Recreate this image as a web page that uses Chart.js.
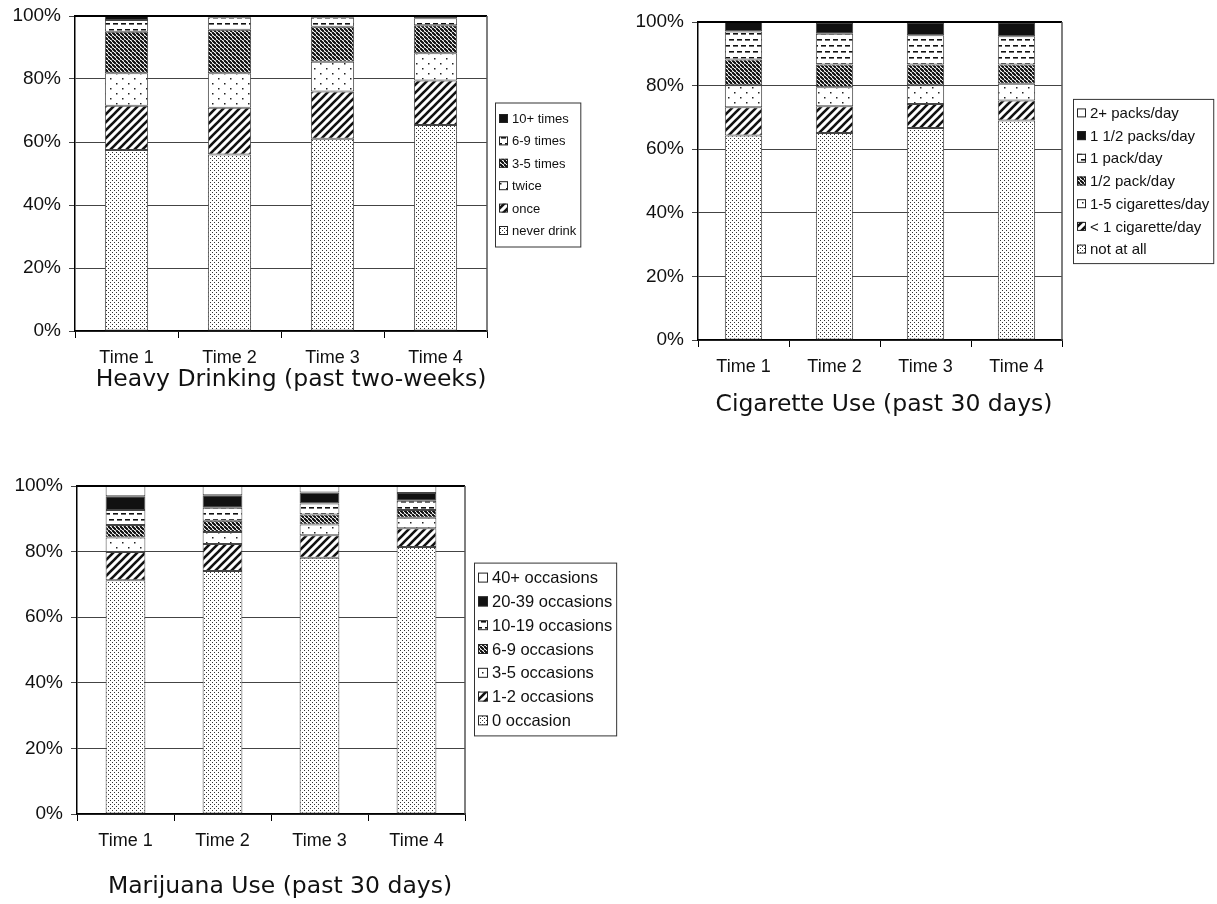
<!DOCTYPE html>
<html>
<head>
<meta charset="utf-8">
<script src="https://cdn.jsdelivr.net/npm/chart.js@4.4.1/dist/chart.umd.min.js"></script>
<style>
  html,body{margin:0;padding:0;background:#fff;}
  body{width:1217px;height:904px;position:relative;overflow:hidden;}
  canvas{position:absolute;}
</style>
</head>
<body>
<canvas id="c1" width="610" height="414" style="left:0;top:-4px"></canvas>
<canvas id="c2" width="617" height="420" style="left:600px;top:0"></canvas>
<canvas id="c3" width="620" height="454" style="left:0;top:450px"></canvas>
<script>
// ---------- DATA ----------
const timeLabels = ['Time 1', 'Time 2', 'Time 3', 'Time 4'];
const yTickValues = [0, 20, 40, 60, 80, 100];

// Heavy Drinking (past two-weeks), % per time point (bottom to top)
const drinkNever   = [57.5, 56.0, 61.0, 65.4];
const drinkOnce    = [14.0, 14.9, 15.0, 14.1];
const drinkTwice   = [10.3, 10.9, 9.5, 8.7];
const drink3to5    = [13.2, 13.8, 11.1, 8.9];
const drink6to9    = [3.7, 4.0, 3.0, 2.2];
const drink10plus  = [1.3, 0.4, 0.4, 0.7];

// Cigarette Use (past 30 days)
const cigNone      = [64.3, 65.1, 66.7, 69.0];
const cigLess1     = [8.9, 8.4, 7.5, 6.3];
const cig1to5      = [6.9, 6.0, 5.9, 5.3];
const cigHalfPack  = [8.1, 7.1, 6.5, 6.0];
const cigOnePack   = [8.8, 9.7, 9.2, 8.9];
const cigOneHalf   = [3.0, 3.4, 4.1, 4.4];
const cig2Plus     = [0.0, 0.3, 0.1, 0.1];

// Marijuana Use (past 30 days)
const mj0          = [71.3, 74.1, 78.1, 81.4];
const mj1to2       = [8.6, 8.2, 6.9, 5.7];
const mj3to5       = [4.4, 3.7, 3.3, 3.2];
const mj6to9       = [3.8, 3.4, 3.0, 2.4];
const mj10to19     = [4.6, 4.0, 3.4, 2.8];
const mj20to39     = [4.2, 3.8, 3.3, 2.4];
const mj40plus     = [3.1, 2.8, 2.0, 2.1];

// ---------- PATTERNS ----------
function makePattern(kind) {
  const c = document.createElement('canvas');
  let x;
  if (kind === 'dense') {
    c.width = 4; c.height = 4; x = c.getContext('2d');
    x.fillStyle = '#fff'; x.fillRect(0, 0, 4, 4);
    x.fillStyle = '#333'; x.fillRect(0, 0, 1, 1); x.fillRect(2, 2, 1, 1);
  } else if (kind === 'sparse') {
    c.width = 12; c.height = 10; x = c.getContext('2d');
    x.fillStyle = '#fff'; x.fillRect(0, 0, 12, 10);
    x.fillStyle = '#222'; x.fillRect(2, 2, 1.5, 1.5); x.fillRect(8, 7, 1.5, 1.5);
  } else if (kind === 'fwd') {
    c.width = 8; c.height = 8; x = c.getContext('2d');
    x.fillStyle = '#fff'; x.fillRect(0, 0, 8, 8);
    x.strokeStyle = '#111'; x.lineWidth = 2.6;
    [[-8, 8, 8, -8], [0, 8, 8, 0], [0, 16, 16, 0]].forEach(l => {
      x.beginPath(); x.moveTo(l[0], l[1]); x.lineTo(l[2], l[3]); x.stroke();
    });
  } else if (kind === 'back') {
    c.width = 4; c.height = 4; x = c.getContext('2d');
    x.fillStyle = '#fff'; x.fillRect(0, 0, 4, 4);
    x.strokeStyle = '#111'; x.lineWidth = 1.7;
    [[-4, 0, 0, 4], [0, 0, 4, 4], [4, 0, 8, 4], [-2, -2, 6, 6]].forEach(l => {
      x.beginPath(); x.moveTo(l[0], l[1]); x.lineTo(l[2], l[3]); x.stroke();
    });
  } else if (kind === 'dash') {
    c.width = 8; c.height = 12; x = c.getContext('2d');
    x.fillStyle = '#fff'; x.fillRect(0, 0, 8, 12);
    x.fillStyle = '#111';
    x.fillRect(1, 3, 5, 1.6);
    x.fillRect(5, 9, 3, 1.6); x.fillRect(0, 9, 2, 1.6);
  } else if (kind === 'black') {
    return '#111';
  } else {
    return '#fff';
  }
  return x.createPattern(c, 'repeat');
}

// ---------- FRAME / LEGEND / TITLE PLUGIN ----------
const framePlugin = {
  id: 'frame',
  afterDraw(chart, args, o) {
    const ctx = chart.ctx, a = chart.chartArea;
    ctx.save();
    // top and right border of plot
    ctx.strokeStyle = '#000'; ctx.lineWidth = 2;
    ctx.beginPath(); ctx.moveTo(a.left, a.top); ctx.lineTo(a.right, a.top); ctx.stroke();
    ctx.strokeStyle = '#555'; ctx.lineWidth = 1.5;
    ctx.beginPath(); ctx.moveTo(a.right, a.top); ctx.lineTo(a.right, a.bottom); ctx.stroke();

    // legend (reversed order: top of stack first)
    const ds = chart.data.datasets.slice().reverse();
    ctx.font = o.legendSize + 'px "Liberation Sans", Arial, sans-serif';
    let maxw = 0;
    ds.forEach(d => { maxw = Math.max(maxw, ctx.measureText(d.label).width); });
    const bx = a.right + o.gap;
    const bh = (ds.length - 1) * o.rowH + o.vpad * 2;
    const by = (a.top + a.bottom) / 2 - bh / 2 + o.dy;
    const sw = o.sw;
    const tx = bx + 4 + sw + 4;
    const bw = tx + maxw + 4 - bx;
    ctx.fillStyle = '#fff';
    ctx.fillRect(bx, by, bw, bh);
    ctx.strokeStyle = '#333'; ctx.lineWidth = 1;
    ctx.strokeRect(bx + 0.5, by + 0.5, bw, bh);
    ctx.textBaseline = 'middle'; ctx.textAlign = 'left';
    ds.forEach((d, i) => {
      const cy = by + o.vpad + i * o.rowH;
      ctx.fillStyle = d.backgroundColor;
      ctx.fillRect(bx + 4, cy - sw / 2, sw, sw);
      ctx.strokeStyle = '#222'; ctx.lineWidth = 1;
      ctx.strokeRect(bx + 4.5, cy - sw / 2 + 0.5, sw - 1, sw - 1);
      ctx.fillStyle = '#111';
      ctx.fillText(d.label, tx, cy + 1);
    });

    // title below chart
    ctx.font = o.titleSize + 'px "DejaVu Sans", Verdana, sans-serif';
    ctx.fillStyle = '#111'; ctx.textAlign = 'center'; ctx.textBaseline = 'middle';
    ctx.fillText(o.title, o.titleX, o.titleY);
    ctx.restore();
  }
};

const xTickFont = { family: '"Liberation Sans", Arial, sans-serif', size: 18 };
const yTickFont = { family: '"Liberation Sans", Arial, sans-serif', size: 19 };

function makeChart(id, series, opt) {
  return new Chart(document.getElementById(id), {
    type: 'bar',
    data: {
      labels: timeLabels,
      datasets: series.map(s => ({
        label: s.label, data: s.data,
        backgroundColor: makePattern(s.pat),
        borderColor: '#444', borderWidth: 1, borderSkipped: false,
        barPercentage: opt.bar, categoryPercentage: 1
      }))
    },
    options: {
      responsive: false, animation: false, devicePixelRatio: 1,
      layout: { padding: { left: 0, top: opt.top, right: opt.right, bottom: opt.bottom } },
      plugins: {
        legend: { display: false }, tooltip: { enabled: false },
        frame: opt.frame
      },
      scales: {
        x: {
          stacked: true,
          grid: { drawOnChartArea: false, drawTicks: true, tickLength: 7, color: '#000', offset: true },
          border: { color: '#000', width: 1.5 },
          ticks: { font: xTickFont, color: '#111', padding: 9, maxRotation: 0 },
          afterFit(s) { s.height = opt.xh; }
        },
        y: {
          stacked: true, min: 0, max: 100,
          afterBuildTicks(s) { s.ticks = yTickValues.map(v => ({ value: v })); },
          ticks: { font: yTickFont, color: '#111', padding: 8, callback: v => v + '%' },
          grid: { color: '#444', lineWidth: 1, tickLength: 6 },
          border: { color: '#000', width: 1.5 },
          afterFit(s) { s.width = opt.yw; }
        }
      }
    },
    plugins: [framePlugin]
  });
}

makeChart('c1', [
  { label: 'never drink', data: drinkNever, pat: 'dense' },
  { label: 'once', data: drinkOnce, pat: 'fwd' },
  { label: 'twice', data: drinkTwice, pat: 'sparse' },
  { label: '3-5 times', data: drink3to5, pat: 'back' },
  { label: '6-9 times', data: drink6to9, pat: 'dash' },
  { label: '10+ times', data: drink10plus, pat: 'black' }
], {
  yw: 75, top: 20, right: 123, xh: 40, bottom: 39, bar: 0.42,
  frame: { legendSize: 13, rowH: 22.4, vpad: 16, gap: 8, sw: 9, dy: 1,
           title: 'Heavy Drinking (past two-weeks)', titleSize: 23.5, titleX: 291, titleY: 384 }
});

makeChart('c2', [
  { label: 'not at all', data: cigNone, pat: 'dense' },
  { label: '< 1 cigarette/day', data: cigLess1, pat: 'fwd' },
  { label: '1-5 cigarettes/day', data: cig1to5, pat: 'sparse' },
  { label: '1/2 pack/day', data: cigHalfPack, pat: 'back' },
  { label: '1 pack/day', data: cigOnePack, pat: 'dash' },
  { label: '1 1/2 packs/day', data: cigOneHalf, pat: 'black' },
  { label: '2+ packs/day', data: cig2Plus, pat: 'white' }
], {
  yw: 98, top: 22, right: 155, xh: 40, bottom: 40, bar: 0.41,
  frame: { legendSize: 15, rowH: 22.7, vpad: 14, gap: 11, sw: 9, dy: 0,
           title: 'Cigarette Use (past 30 days)', titleSize: 23.5, titleX: 284, titleY: 405 }
});

makeChart('c3', [
  { label: '0 occasion', data: mj0, pat: 'dense' },
  { label: '1-2 occasions', data: mj1to2, pat: 'fwd' },
  { label: '3-5 occasions', data: mj3to5, pat: 'sparse' },
  { label: '6-9 occasions', data: mj6to9, pat: 'back' },
  { label: '10-19 occasions', data: mj10to19, pat: 'dash' },
  { label: '20-39 occasions', data: mj20to39, pat: 'black' },
  { label: '40+ occasions', data: mj40plus, pat: 'white' }
], {
  yw: 77, top: 36, right: 155, xh: 40, bottom: 50, bar: 0.41,
  frame: { legendSize: 16.5, rowH: 23.8, vpad: 15, gap: 9, sw: 10, dy: -1,
           title: 'Marijuana Use (past 30 days)', titleSize: 23.5, titleX: 280, titleY: 437 }
});
</script>
</body>
</html>
